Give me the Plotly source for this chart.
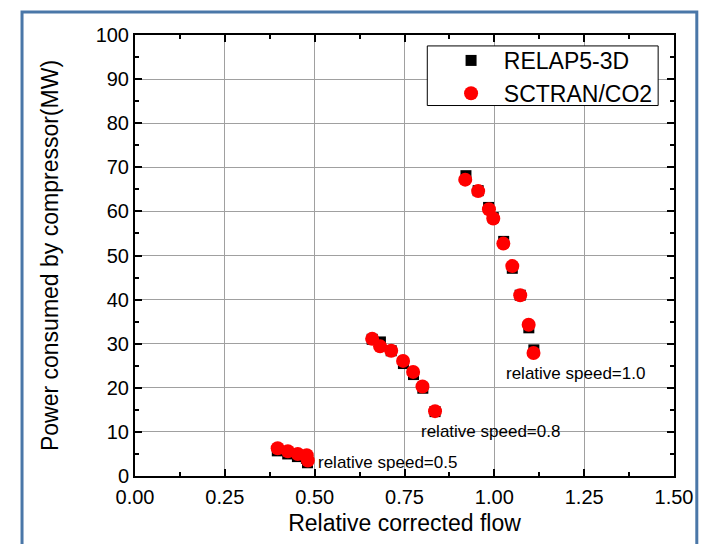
import plotly.graph_objects as go

# RELAP5-3D results: relative corrected flow vs. compressor power (MW)
relap_flow_10 = [0.921, 0.955, 0.984, 0.997, 1.026, 1.050, 1.072, 1.096, 1.110]
relap_power_10 = [68.1, 64.7, 60.9, 58.6, 53.2, 47.1, 41.0, 33.6, 28.6]
relap_flow_08 = [0.660, 0.683, 0.713, 0.747, 0.775, 0.801, 0.835]
relap_power_08 = [31.0, 30.4, 28.4, 25.5, 23.0, 19.9, 14.6]
relap_flow_05 = [0.396, 0.425, 0.452, 0.477, 0.480]
relap_power_05 = [5.7, 5.0, 4.4, 4.0, 3.0]

# SCTRAN/CO2 results
sctran_flow_10 = [0.919, 0.955, 0.985, 0.997, 1.025, 1.050, 1.072, 1.0955, 1.109]
sctran_power_10 = [67.2, 64.6, 60.5, 58.4, 52.7, 47.6, 41.0, 34.3, 27.9]
sctran_flow_08 = [0.660, 0.682, 0.713, 0.746, 0.774, 0.800, 0.835]
sctran_power_08 = [31.1, 29.4, 28.4, 26.1, 23.6, 20.3, 14.7]
sctran_flow_05 = [0.397, 0.4255, 0.453, 0.478, 0.481]
sctran_power_05 = [6.3, 5.6, 5.0, 4.7, 3.5]

speed_labels = ["relative speed=1.0", "relative speed=0.8", "relative speed=0.5"]
label_x = [1.028, 0.790, 0.503]
label_y = [23.2, 10.0, 3.0]

x_ticks = [0.0, 0.25, 0.5, 0.75, 1.0, 1.25, 1.5]
y_ticks = list(range(0, 101, 10))

relap_x = relap_flow_10 + relap_flow_08 + relap_flow_05
relap_y = relap_power_10 + relap_power_08 + relap_power_05
sctran_x = sctran_flow_10 + sctran_flow_08 + sctran_flow_05
sctran_y = sctran_power_10 + sctran_power_08 + sctran_power_05

FONT = "Liberation Sans, Arial, sans-serif"
NBSP = "\u00a0"

fig = go.Figure()
fig.add_trace(go.Scatter(
    x=relap_x, y=relap_y, mode="markers", name=NBSP * 2 + "RELAP5-3D",
    marker=dict(symbol="square", size=11, color="black"),
))
fig.add_trace(go.Scatter(
    x=sctran_x, y=sctran_y, mode="markers", name=NBSP * 2 + "SCTRAN/CO2",
    marker=dict(symbol="circle", size=14, color="#ff0000"),
))

for txt, lx, ly in zip(speed_labels, label_x, label_y):
    fig.add_annotation(
        x=lx, y=ly, text=txt, showarrow=False, xanchor="left", yanchor="middle",
        font=dict(family=FONT, size=17, color="black"),
    )

# blue frame around the whole figure
fig.add_shape(
    type="rect", xref="paper", yref="paper",
    x0=-0.2096, x1=1.0423, y0=-0.19, y1=1.052,
    line=dict(color="#4a77a8", width=3), layer="below",
)
# legend box
fig.add_shape(
    type="rect", xref="paper", yref="paper",
    x0=(430 - 135) / 544, x1=(663 - 135) / 544,
    y0=(479 - 106) / 444, y1=(479 - 46) / 444,
    line=dict(color="black", width=1), fillcolor="white", layer="above",
)

axis_common = dict(
    showline=True, linecolor="black", linewidth=2, mirror="ticks",
    ticks="inside", ticklen=7, tickwidth=1.5, tickcolor="black",
    showgrid=True, gridcolor="#a0a0a0", gridwidth=1,
    zeroline=False,
    tickfont=dict(family=FONT, size=20, color="black"),
)

fig.update_xaxes(
    range=[0, 1.5], tickvals=x_ticks, tickformat=".2f", ticklabelstandoff=2,
    title=dict(text="Relative corrected flow", font=dict(family=FONT, size=23, color="black"), standoff=8),
    minor=dict(dtick=0.125, ticks="inside", ticklen=4, tickwidth=1.5, tickcolor="black", showgrid=False),
    **axis_common,
)
fig.update_yaxes(
    range=[0, 100], tickvals=y_ticks,
    title=dict(text="Power consumed by compressor(MW)", font=dict(family=FONT, size=23, color="black"), standoff=31),
    minor=dict(dtick=5, ticks="inside", ticklen=4, tickwidth=1.5, tickcolor="black", showgrid=False),
    **axis_common,
)

fig.update_layout(
    width=705, height=544,
    margin=dict(l=135, r=26, t=35, b=65),
    paper_bgcolor="white", plot_bgcolor="white",
    showlegend=True,
    legend=dict(
        x=(454 - 135) / 544, y=(479 - 39) / 444, xanchor="left", yanchor="top",
        bgcolor="rgba(0,0,0,0)", borderwidth=0,
        font=dict(family=FONT, size=23, color="black"),
        itemsizing="trace", tracegroupgap=0,
    ),
)

fig.write_html("out.html")
